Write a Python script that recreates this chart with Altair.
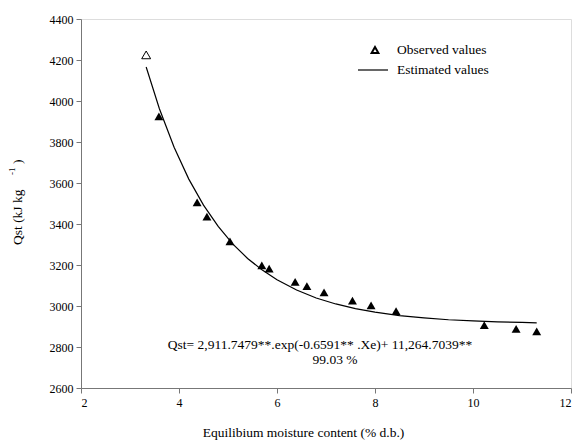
import altair as alt
import pandas as pd

# Observed values (first one drawn hollow)
xe_obs = [3.33, 3.59, 4.37, 4.57, 5.04, 5.69, 5.84, 6.37, 6.61, 6.96, 7.54, 7.92, 8.43, 10.23, 10.88, 11.30]
qst_obs = [4225, 3925, 3505, 3436, 3315, 3198, 3182, 3118, 3097, 3066, 3026, 3003, 2975, 2907, 2888, 2876]

# Estimated curve values
xe_est = [3.33, 3.6, 3.9, 4.2, 4.5, 4.8, 5.1, 5.4, 5.7, 6.0, 6.4, 6.8, 7.2, 7.6, 8.0, 8.5, 9.0, 9.5, 10.0, 10.5, 11.0, 11.3]
qst_est = [4166, 3962, 3774, 3619, 3492, 3388, 3302, 3232, 3175, 3128, 3078, 3039, 3010, 2987, 2970, 2953, 2942, 2933, 2927, 2923, 2920, 2918]

x_ticks = [2, 4, 6, 8, 10, 12]
y_ticks = [2600, 2800, 3000, 3200, 3400, 3600, 3800, 4000, 4200, 4400]

FONT = "'Liberation Serif', 'DejaVu Serif', serif"
TS = 13.5

obs = pd.DataFrame({"x": xe_obs, "y": qst_obs})
obs_open = obs.iloc[:1]
obs_fill = obs.iloc[1:]
est = pd.DataFrame({"x": xe_est, "y": qst_est})

xs = alt.Scale(domain=[2, 12], nice=False, zero=False)
ys = alt.Scale(domain=[2600, 4400], nice=False, zero=False)

xax = alt.Axis(values=x_ticks, format="d", title="Equilibium moisture content (% d.b.)", grid=False,
               domainColor="#777777", tickColor="#777777", tickSize=5,
               labelFont=FONT, labelFontSize=12, labelColor="black", labelPadding=4,
               titleFont=FONT, titleFontSize=TS, titleFontWeight="normal", titleColor="black",
               titlePadding=17, titleX=222, titleAlign="center")
yax = alt.Axis(values=y_ticks, format="d", title=None, grid=False,
               domainColor="#777777", tickColor="#777777", tickSize=5,
               labelFont=FONT, labelFontSize=12, labelColor="black", labelPadding=3)

line = alt.Chart(est).mark_line(color="black", strokeWidth=1.2).encode(
    x=alt.X("x:Q", scale=xs, axis=xax),
    y=alt.Y("y:Q", scale=ys, axis=yax),
)
pts_fill = alt.Chart(obs_fill).mark_point(shape="triangle-up", filled=True, color="black", size=80, opacity=1).encode(
    x=alt.X("x:Q", scale=xs), y=alt.Y("y:Q", scale=ys))
pts_open = alt.Chart(obs_open).mark_point(shape="triangle-up", filled=False, color="black", size=80, strokeWidth=1, opacity=1).encode(
    x=alt.X("x:Q", scale=xs), y=alt.Y("y:Q", scale=ys))

one = pd.DataFrame({"a": [0]})

def txt(s, x, y, size=TS, align="left", angle=0, baseline="middle"):
    return alt.Chart(one).mark_text(text=s, font=FONT, fontSize=size, align=align, baseline=baseline,
                                    angle=angle, color="black").encode(x=alt.value(x), y=alt.value(y))

eq1 = txt("Qst= 2,911.7479**.exp(-0.6591** .Xe)+ 11,264.7039**", 239, 326, align="center")
eq2 = txt("99.03 %", 254, 341, align="center")

leg_tri = alt.Chart(one).mark_point(shape="triangle-up", filled=False, color="black", size=45, opacity=1).encode(
    x=alt.value(294), y=alt.value(31))
leg_line = alt.Chart(one).mark_rule(color="black", strokeWidth=1.2).encode(
    x=alt.value(277), x2=alt.value(307), y=alt.value(51))
leg_t1 = txt("Observed values", 316, 31)
leg_t2 = txt("Estimated values", 316, 51)

ytitle1 = txt("Qst (kJ kg", -63, 226, align="left", angle=270)
ytitle2 = txt("-1", -69, 156, size=9, align="left", angle=270)
ytitle3 = txt(")", -63, 145, align="left", angle=270)

chart = alt.layer(line, pts_fill, pts_open, eq1, eq2, leg_tri, leg_line, leg_t1, leg_t2,
                  ytitle1, ytitle2, ytitle3).properties(
    width=490, height=369,
    padding={"left": 81, "top": 19, "right": 8, "bottom": 53},
    autosize=alt.AutoSizeParams(type="none"),
).configure_view(stroke=None).configure(background="white")

chart.save("out.html", embed_options={"renderer": "svg", "actions": False})
